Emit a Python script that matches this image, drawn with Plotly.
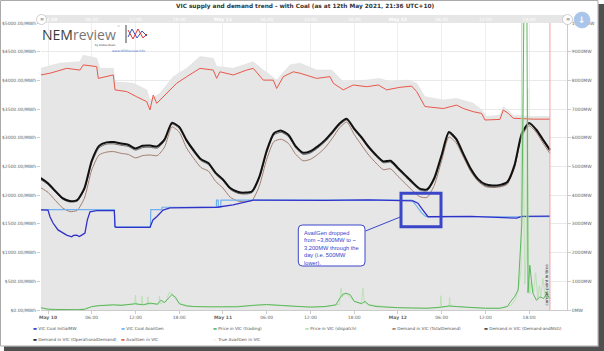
import pandas as pd
import plotly.graph_objects as go

BASE = pd.Timestamp("2021-05-10 00:00")


def when(hours):
    return [BASE + pd.Timedelta(hours=float(h)) for h in hours]


# ---------------- data (hours after 10 May 00:00) ----------------
dem_h = list(range(-1, 69)) + [68.86]
oper_demand = [4600, 4420, 4150, 3900, 3800, 3830, 4250, 5200, 5720, 5840,
               5850, 5800, 5760, 5630, 5720, 5730, 5700, 5950, 6520, 6380,
               5920, 5560, 5250, 5120, 4780, 4550, 4250, 4120, 4090, 4140,
               4650, 5550, 6160, 6250, 6100, 5700, 5480, 5530, 5700, 5920,
               6200, 6500, 6660, 6320, 6020, 5680, 5400, 5180, 5200, 4950,
               4700, 4450, 4230, 4200, 4600, 5400, 6200, 5960, 5430, 4920,
               4560, 4380, 4340, 4360, 4460, 5050, 6150, 6520, 6280, 5900,
               5580]
nsg_demand = [4540, 4370, 4100, 3860, 3760, 3790, 4190, 5120, 5650, 5780,
              5790, 5740, 5700, 5570, 5660, 5670, 5640, 5890, 6480, 6330,
              5870, 5500, 5200, 5070, 4730, 4500, 4200, 4070, 4040, 4090,
              4590, 5480, 6100, 6190, 6040, 5640, 5420, 5470, 5640, 5860,
              6140, 6450, 6620, 6270, 5970, 5630, 5350, 5130, 5150, 4900,
              4650, 4400, 4180, 4150, 4540, 5340, 6150, 5910, 5380, 4870,
              4510, 4330, 4290, 4310, 4410, 5000, 6100, 6480, 6240, 5860,
              5540]
total_demand = [4260, 4100, 3820, 3560, 3430, 3470, 3900, 4880, 5400, 5500,
                5520, 5460, 5420, 5300, 5380, 5400, 5380, 5680, 6380, 6200,
                5650, 5280, 4960, 4840, 4480, 4250, 3930, 3800, 3770, 3820,
                4330, 5250, 5870, 5950, 5800, 5420, 5200, 5250, 5420, 5650,
                5980, 6350, 6550, 6120, 5750, 5400, 5120, 4890, 4920, 4660,
                4410, 4160, 3950, 3920, 4350, 5200, 6030, 5820, 5320, 4820,
                4480, 4300, 4270, 4290, 4380, 4950, 6050, 6420, 6180, 5780,
                5450]

coal_init_h = [-1, 0, 0.27, 0.69, 1.37, 2.06, 2.56, 3.25, 3.5, 3.94,
               4.3, 4.62, 5.07, 5.39, 5.76, 6.68, 9.1, 9.2, 9.3, 14.0,
               14.2, 14.4, 14.91, 15.78, 16.74, 23.2, 25.4, 27.26, 28.16, 38,
               44, 50.07, 50.75, 51.26, 51.71, 52.13, 58, 64.3, 65, 68.86]
coal_init_mw = [3490, 3480, 3250, 3030, 2790, 2680, 2610, 2550, 2600, 2610,
                2560, 2610, 2680, 3130, 3420, 3460, 3460, 2900, 2880, 2880,
                3000, 3140, 3250, 3480, 3560, 3580, 3660, 3770, 3830, 3820,
                3840, 3800, 3720, 3540, 3380, 3250, 3260, 3200, 3260, 3270]

coal_avail_h = [-1, 9.1, 9.15, 14.05, 14.1, 15.6, 15.65, 23.1, 23.12, 23.35,
                23.37, 23.7, 23.72, 49.9, 50.5, 51.2, 51.8, 52.1, 68.86]
coal_avail_mw = [3500, 3500, 2900, 2900, 3500, 3500, 3580, 3580, 3830, 3830,
                 3580, 3580, 3830, 3830, 3650, 3400, 3260, 3250, 3250]

price_trading_h = [-1, 0, 1, 2, 3, 4, 5, 5.5, 6, 7,
                   8, 9, 10, 11, 12, 13, 14, 15, 15.5, 16,
                   16.5, 17, 17.5, 18, 19, 20, 22, 24, 26, 28,
                   30, 32, 34, 36, 38, 39.5, 40, 40.5, 41, 41.5,
                   42, 43, 43.5, 44, 45, 46, 48, 50, 52, 54,
                   55, 56, 58, 60, 62, 63, 63.5, 64, 64.5, 65,
                   65.3, 65.7, 65.85, 66.1, 66.5, 67, 67.5, 68, 68.4, 68.86]
price_trading = [40, 15, 10, 5, 5, 5, 10, 40, 60, 75,
                 85, 90, 80, 95, 110, 90, 120, 100, 170, 130,
                 200, 270, 220, 110, 70, 60, 55, 60, 55, 80,
                 95, 80, 60, 50, 60, 90, 200, 280, 290, 260,
                 150, 110, 150, 90, 60, 50, 40, 35, 30, 50,
                 70, 60, 40, 30, 30, 60, 150, 230, 350, 1500,
                 5300, 5300, 300, 780, 300, 170, 230, 200, 280, 200]

price_dispatch_h = [-1, 0, 2, 4, 5.5, 7, 9, 11, 11.9, 12.0,
                    12.1, 12.8, 12.9, 13.0, 13.6, 13.7, 13.8, 14.5, 15.2, 15.3,
                    15.4, 16.2, 16.6, 17.0, 17.4, 17.8, 18.3, 20, 24, 28,
                    30, 34, 38, 40, 40.2, 40.4, 40.8, 41.2, 42, 43.0,
                    43.2, 43.4, 44, 48, 52, 53.8, 53.9, 54.0, 55.0, 55.1,
                    55.2, 58, 62, 63.5, 64.2, 64.6, 64.9, 65.1, 65.2, 65.4,
                    65.6, 65.8, 65.9, 66.0, 66.1, 66.3, 66.6, 66.9, 67.2, 67.4,
                    67.6, 67.9, 68.2, 68.5, 68.86]
price_dispatch = [40, 10, 5, 5, 40, 80, 90, 90, 100, 260,
                  90, 100, 240, 100, 90, 230, 100, 110, 100, 240,
                  110, 150, 300, 290, 200, 160, 100, 60, 60, 75,
                  95, 60, 55, 100, 380, 230, 300, 250, 160, 120,
                  380, 130, 90, 40, 30, 40, 250, 50, 60, 220,
                  70, 40, 30, 80, 200, 420, 700, 14000, 3200, 450,
                  900, 3850, 350, 600, 280, 500, 300, 650, 180, 420,
                  250, 550, 230, 350, 150]

availgen_h = [-1, 0.27, 2.57, 4.39, 4.84, 6.68, 6.9, 8.96, 9.19, 10.8,
              12.17, 13.54, 13.99, 14.44, 14.91, 15.36, 16.28, 17.65, 19.03, 20.85,
              22.67, 23.14, 23.59, 25.42, 27.26, 28.16, 29.53, 30.9, 31.37, 32.28,
              33.65, 34.57, 36.86, 38.68, 39.14, 40.51, 41.88, 43.72, 45.31, 46.46,
              48.29, 49.89, 50.58, 51.71, 54.23, 56.06, 56.97, 58.34, 59.49, 59.95,
              62.0, 62.46, 63.14, 63.83, 66.57, 68.86]
availgen_mw = [8190, 8250, 8420, 8360, 8540, 8480, 8070, 8190, 7670, 7610,
               7430, 7260, 6970, 7490, 7200, 7320, 7550, 7900, 8130, 8420,
               8360, 8070, 8300, 8190, 8360, 8420, 8010, 8010, 7720, 8130,
               8300, 8250, 8070, 8130, 7900, 7670, 7840, 7780, 7840, 7670,
               7760, 7800, 7610, 7090, 7020, 7140, 7020, 6910, 6850, 6620,
               6640, 6970, 6850, 6680, 6650, 6650]

true_avail_h = [-1, 1.65, 4.39, 4.84, 6.68, 7.13, 8.96, 9.19, 11.7, 13.54,
                13.99, 15.36, 17.19, 19.03, 20.85, 22.67, 23.14, 25.42, 28.16, 29.53,
                31.37, 33.2, 34.57, 36.86, 38.92, 40.51, 43.72, 45.54, 46.91, 49.2,
                50.58, 51.71, 54.23, 56.06, 58.34, 59.49, 60.17, 62.0, 62.46, 63.14,
                63.83, 66.57, 68.86]
true_avail_mw = [8420, 8600, 8650, 8880, 8770, 8420, 8420, 7950, 7900, 7670,
                 7320, 7550, 8130, 8420, 8830, 8770, 8480, 8420, 8650, 8360,
                 8010, 8540, 8600, 8360, 8360, 7950, 8010, 8070, 7950, 8010,
                 7900, 7430, 7320, 7370, 7200, 6970, 6740, 6790, 7080, 6950,
                 6780, 6740, 6740]

tick_hours = list(range(0, 72, 6))
price_ticks = list(range(0, 5001, 500))
mw_ticks = list(range(0, 10001, 1000))
now_h = 68.86

# ---------------- layout helpers ----------------
W, H = 604, 351
L, R, T, B = 41, 37, 23, 41
PW, PH = W - L - R, H - T - B


def px(x):
    return (x - L) / PW


def py(y):
    return (H - B - y) / PH


FONT = "DejaVu Sans"
fig = go.Figure()

# MW series on the main axis "y" (drawn first), price on overlaying "y2" (drawn on top)
fig.add_trace(go.Scatter(x=when(true_avail_h), y=true_avail_mw, yaxis="y", mode="lines",
                         line=dict(color="#dcdcdc", width=0.5), fill="tozeroy",
                         fillcolor="#e6e6e6", name="True AvailGen in VIC", hoverinfo="skip"))
fig.add_trace(go.Scatter(x=when(availgen_h), y=availgen_mw, yaxis="y", mode="lines",
                         line=dict(color="#e8584a", width=1), name="AvailGen in VIC"))
fig.add_trace(go.Scatter(x=when(dem_h), y=total_demand, yaxis="y", mode="lines",
                         line=dict(color="#a27d70", width=1, shape="spline", smoothing=0.6),
                         name="Demand in VIC (TotalDemand)"))
fig.add_trace(go.Scatter(x=when(dem_h), y=nsg_demand, yaxis="y", mode="lines",
                         line=dict(color="#444444", width=0.8, shape="spline", smoothing=0.6),
                         name="Demand in VIC (Demand-andNSG)"))
fig.add_trace(go.Scatter(x=when(dem_h), y=oper_demand, yaxis="y", mode="lines",
                         line=dict(color="#111111", width=2, shape="spline", smoothing=0.6),
                         name="Demand in VIC (OperationalDemand)"))
fig.add_trace(go.Scatter(x=when(coal_avail_h), y=coal_avail_mw, yaxis="y", mode="lines",
                         line=dict(color="#6fb0f0", width=1.2), name="VIC Coal AvailGen"))
fig.add_trace(go.Scatter(x=when(coal_init_h), y=coal_init_mw, yaxis="y", mode="lines",
                         line=dict(color="#3131c8", width=1.3), name="VIC Coal InitialMW"))
fig.add_trace(go.Scatter(x=when(price_dispatch_h), y=price_dispatch, yaxis="y2", mode="lines",
                         line=dict(color="#b4e0ab", width=0.8), name="Price in VIC (dispatch)"))
fig.add_trace(go.Scatter(x=when(price_trading_h), y=price_trading, yaxis="y2", mode="lines",
                         line=dict(color="#5cb85c", width=1), name="Price in VIC (trading)"))
# empty trace that carries the top time axis
fig.add_trace(go.Scatter(x=when([-0.96, 71.2]), y=[None, None], xaxis="x2", yaxis="y",
                         mode="lines", hoverinfo="skip"))

xrange = when([-0.96, 71.2])
tick_dates = when(tick_hours)
tick_text = [f"<b>May {10 + h // 24}</b>" if h % 24 == 0 else f"{h % 24:02d}:00" for h in tick_hours]

tickfont = dict(family=FONT, size=4.5, color="#666666")
fig.update_layout(
    width=W, height=H, margin=dict(l=L, r=R, t=T, b=B, autoexpand=False),
    paper_bgcolor="white", plot_bgcolor="white", showlegend=False,
    xaxis=dict(type="date", range=xrange, tickvals=tick_dates, ticktext=tick_text,
               tickfont=tickfont, showgrid=True, gridcolor="#eeeeee", gridwidth=0.6,
               ticks="outside", ticklen=3, tickcolor="#cccccc", showline=True,
               linecolor="#cccccc", linewidth=0.8, zeroline=False, automargin=False),
    xaxis2=dict(type="date", range=xrange, overlaying="x", side="top", tickvals=tick_dates,
                ticktext=tick_text, tickfont=dict(family=FONT, size=4.5, color="#ffffff"),
                showgrid=False, ticks="", showline=False, zeroline=False, automargin=False),
    yaxis=dict(range=[0, 10000], side="right", tickvals=mw_ticks,
               ticktext=[f"{v}MW" for v in mw_ticks], tickfont=tickfont, showgrid=True,
               gridcolor="#e9e9e9", gridwidth=0.6, ticks="outside", ticklen=3,
               tickcolor="#cccccc", showline=True, linecolor="#cccccc", linewidth=0.8,
               zeroline=False, automargin=False),
    yaxis2=dict(range=[0, 5000], overlaying="y", side="left", tickvals=price_ticks,
                ticktext=[f"${v:.2f}/MWh" for v in price_ticks], tickfont=tickfont,
                showgrid=False, ticks="outside", ticklen=3, tickcolor="#cccccc",
                zeroline=False, showline=False, automargin=False),
)

shapes = []
annotations = []


def note(text, x, y, size, color="#333333", family=FONT, **kw):
    d = dict(text=text, xref="paper", yref="paper", x=px(x), y=py(y), showarrow=False,
             xanchor="center", yanchor="middle", font=dict(family=family, size=size, color=color))
    d.update(kw)
    annotations.append(d)


# top navigator band
shapes.append(dict(type="rect", xref="paper", yref="paper", x0=0, x1=1, y0=1.0, y1=py(15),
                   fillcolor="#e6e6e6", line=dict(width=0), layer="below"))
# current time line
shapes.append(dict(type="line", xref="x", yref="paper", x0=when([now_h])[0], x1=when([now_h])[0],
                   y0=0, y1=1, line=dict(color="#f3a0a0", width=1)))
note("current point in time", 545.5, 285, 4, textangle=-90)

# title
note("<b>VIC supply and demand trend - with Coal (as at 12th May 2021, 21:36 UTC+10)</b>",
     304.5, 6, 5.8)

# logo
note("<span style='color:#3a3a3a'>NEM</span><span style='color:#777777'>review</span>",
     79, 34, 14, family="Open Sans")
note("™", 118, 27.5, 3, color="#777777")
note("by Global-Roam", 105, 45, 2.6, color="#444444")
note("www.NEMreview.info", 128, 50.5, 3.2, color="#5577cc")
shapes.append(dict(type="line", xref="paper", yref="paper", x0=px(126), x1=px(126), y0=py(25), y1=py(43),
                   line=dict(color="#444444", width=1)))


def poly(points):
    return "M " + " L ".join(f"{px(a):.5f},{py(b):.5f}" for a, b in points)


shapes.append(dict(type="path", xref="paper", yref="paper",
                   path=poly([(128, 37), (132, 29), (137, 38), (142, 31), (147, 36)]),
                   line=dict(color="#3355bb", width=1)))
shapes.append(dict(type="path", xref="paper", yref="paper",
                   path=poly([(128, 30), (133, 39), (138, 29), (143, 38), (147, 34)]),
                   line=dict(color="#dd3333", width=1)))

# buttons
for cx, cy, r, fill, line in [(41.5, 19.5, 5, "white", "#bbbbbb"), (567.5, 19.5, 5, "white", "#bbbbbb"),
                              (582, 20, 8, "#a9c6ea", "#a9c6ea")]:
    shapes.append(dict(type="circle", xref="paper", yref="paper", x0=px(cx - r), x1=px(cx + r),
                       y0=py(cy + r), y1=py(cy - r), fillcolor=fill, line=dict(color=line, width=0.7),
                       layer="above"))
for cx in (41.5, 567.5):
    note("≡", cx, 19.5, 5, color="#777777")
note("<b>↓</b>", 582, 20, 9, color="#ffffff")

# callout highlight box and note
shapes.append(dict(type="rect", xref="paper", yref="paper", x0=px(401), x1=px(441), y0=py(226.7),
                   y1=py(193.3), line=dict(color="#3a46c8", width=3), fillcolor="rgba(0,0,0,0)"))
shapes.append(dict(type="line", xref="paper", yref="paper", x0=px(365.5), y0=py(231), x1=px(401),
                   y1=py(216.7), line=dict(color="#3a46c8", width=1)))
bx0, bx1, by0, by1, rr = 298.3, 365, 225, 266, 4
rx, ry = rr / PW, rr / PH
X0, X1, Y0, Y1 = px(bx0), px(bx1), py(by1), py(by0)
path = (f"M {X0+rx},{Y0} L {X1-rx},{Y0} Q {X1},{Y0} {X1},{Y0+ry} L {X1},{Y1-ry} "
        f"Q {X1},{Y1} {X1-rx},{Y1} L {X0+rx},{Y1} Q {X0},{Y1} {X0},{Y1-ry} "
        f"L {X0},{Y0+ry} Q {X0},{Y0} {X0+rx},{Y0} Z")
shapes.append(dict(type="path", xref="paper", yref="paper", path=path, fillcolor="white",
                   line=dict(color="#3a46c8", width=1)))
note("AvailGen dropped<br>from ~3,800MW to ~<br>3,200MW through the<br>day (i.e. 500MW<br>lower).",
     302, 227.5, 5.7, color="#3344cc", family="Liberation Sans",
     xanchor="left", yanchor="top", align="left")

# legend (as text)
legend_items = [
    (33, 328, "#3131c8", "VIC Coal InitialMW"),
    (121, 328, "#6fb0f0", "VIC Coal AvailGen"),
    (213, 328, "#5cb85c", "Price in VIC (trading)"),
    (305, 328, "#b4e0ab", "Price in VIC (dispatch)"),
    (392, 328, "#a27d70", "Demand in VIC (TotalDemand)"),
    (484, 328, "#444444", "Demand in VIC (Demand-andNSG)"),
    (33, 339, "#111111", "Demand in VIC (OperationalDemand)"),
    (121, 339, "#e8584a", "AvailGen in VIC"),
    (213, 339, "#f4f4f4", "True AvailGen in VIC"),
]
for lx, ly, col, lab in legend_items:
    note(f"<span style='color:{col}'>▬</span> {lab}", lx - 2, ly, 4.2, color="#555555",
         xanchor="left")

# outer frame + shadow
shapes.append(dict(type="rect", xref="paper", yref="paper", x0=px(0.5), x1=px(598), y0=py(346), y1=py(0.5),
                   line=dict(color="#aaaaaa", width=1), fillcolor="rgba(0,0,0,0)"))
shapes.append(dict(type="rect", xref="paper", yref="paper", x0=px(598.5), x1=px(604), y0=py(351), y1=py(4),
                   line=dict(width=0), fillcolor="#505050"))
shapes.append(dict(type="rect", xref="paper", yref="paper", x0=px(4), x1=px(604), y0=py(351), y1=py(346.5),
                   line=dict(width=0), fillcolor="#505050"))

fig.update_layout(shapes=shapes, annotations=annotations)
fig.write_html("out.html")
